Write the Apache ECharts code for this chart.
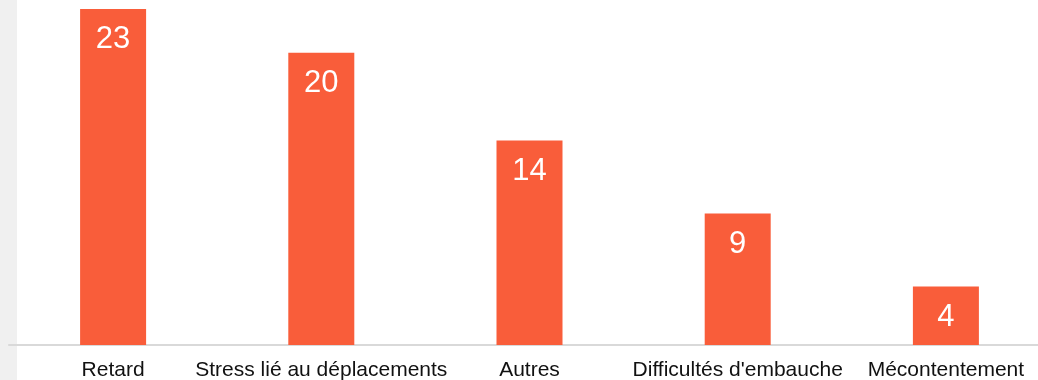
<!DOCTYPE html>
<html>
<head>
<meta charset="utf-8">
<script src="https://cdn.jsdelivr.net/npm/echarts@6/dist/echarts.min.js"></script>
<style>
  html, body { margin: 0; padding: 0; background: #ffffff; }
  #chart { width: 1038px; height: 380px; }
</style>
</head>
<body>
<div id="chart"></div>
<script>
// Reasons cited, with the number of responses for each
const categories = ['Retard', 'Stress lié au déplacements', 'Autres', "Difficultés d'embauche", 'Mécontentement'];
const counts = [23, 20, 14, 9, 4];

const chart = echarts.init(document.getElementById('chart'), null, { renderer: 'canvas' });

chart.setOption({
  animation: false,
  backgroundColor: '#ffffff',
  graphic: [{
    type: 'rect',
    left: 0,
    top: 0,
    shape: { width: 17, height: 380 },
    style: { fill: '#f0f0f0' },
    z: -10
  }],
  grid: {
    left: 9, right: -12, top: 9, bottom: 35,
    containLabel: false,
    outerBoundsMode: 'none'
  },
  xAxis: {
    type: 'category',
    data: categories,
    axisLine: { show: true, lineStyle: { color: '#d9d9d9', width: 2 } },
    axisTick: { show: false },
    axisLabel: {
      color: '#111111',
      fontFamily: 'Liberation Sans, Arial, sans-serif',
      fontSize: 21,
      margin: 15,
      interval: 0
    }
  },
  yAxis: {
    type: 'value',
    min: 0,
    max: 23,
    show: false,
    splitLine: { show: false }
  },
  series: [{
    type: 'bar',
    data: counts,
    barWidth: 66,
    itemStyle: { color: '#f95d3a' },
    label: {
      show: true,
      position: 'insideTop',
      distance: 15,
      color: '#ffffff',
      fontFamily: 'Liberation Sans, Arial, sans-serif',
      fontSize: 31
    }
  }]
});
</script>
</body>
</html>
